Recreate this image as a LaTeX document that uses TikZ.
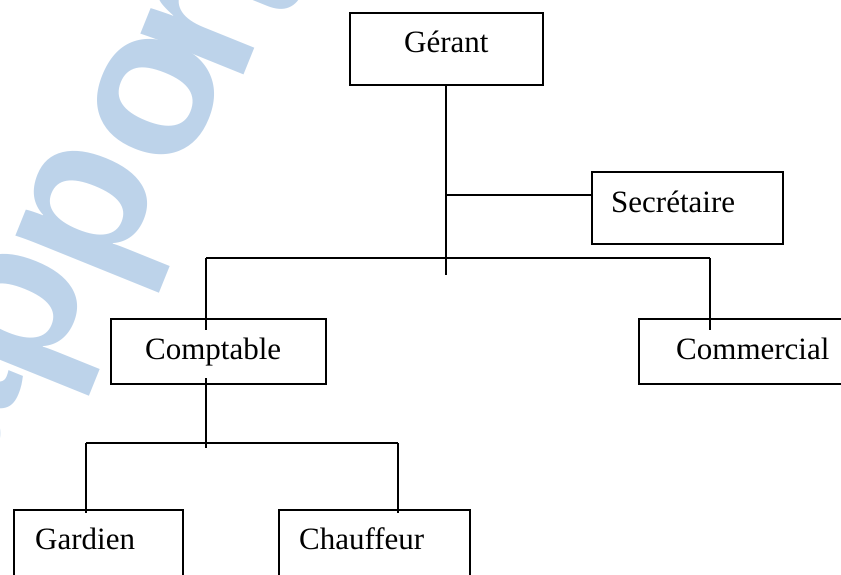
\documentclass[tikz,border=0pt]{standalone}
\usepackage{fontspec}
\setmainfont{Liberation Serif}
\newfontfamily\wmfont{Liberation Sans}
\definecolor{wmblue}{RGB}{189,211,234}
\begin{document}
\begin{tikzpicture}[x=1pt,y=-1pt,
  box/.style={draw=black, line width=1.9pt, rectangle, inner sep=0pt, anchor=north west},
  lbl/.style={font=\fontsize{31}{36}\selectfont, inner sep=0pt, anchor=base west},
  conn/.style={draw=black, line width=1.9pt},
  wm/.style={font=\wmfont\bfseries\fontsize{210}{210}\selectfont, text=wmblue, inner sep=0pt, anchor=base, rotate=68}]
\useasboundingbox (0,0) rectangle (841,575);
\clip (0,0) rectangle (841,575);
% watermark letters
\node[wm] (wa) at (2,432) {a};
\node[wm] (wp1) at (68,334) {p};
\node[wm] (wp2) at (138,231) {p};
\node[wm] (wo) at (208,118) {o};
\node[wm] (wr) at (254,51) {r};
\node[wm] (wt) at (299,-1) {t};
% boxes
\node[box, minimum width=193pt, minimum height=72pt] (gerant) at (349,12) {};
\node[box, minimum width=191pt, minimum height=72pt] (secr) at (591,171) {};
\node[box, minimum width=215pt, minimum height=65pt] (compt) at (110,318) {};
\node[box, minimum width=220pt, minimum height=65pt] (comm) at (638,318) {};
\node[box, minimum width=169pt, minimum height=80pt] (gard) at (13,509) {};
\node[box, minimum width=191pt, minimum height=80pt] (chauf) at (278,509) {};
% labels
\node[lbl] (tgerant) at (404,53) {Gérant};
\node[lbl] (tsecr) at (611,212) {Secrétaire};
\node[lbl] (tcompt) at (145,359) {Comptable};
\node[lbl] (tcomm) at (676,359) {Commercial};
\node[lbl] (tgard) at (35,549) {Gardien};
\node[lbl] (tchauf) at (299,549) {Chauffeur};
% junction coordinates
\coordinate (jsec) at (446,195);
\coordinate (jend) at (446,275);
\coordinate (hl) at (206,258);
\coordinate (hr) at (710,258);
\coordinate (cin) at (206,330);
\coordinate (min) at (710,330);
\coordinate (cout) at (206,378);
\coordinate (cbot) at (206,448);
\coordinate (bl) at (86,443);
\coordinate (br) at (398,443);
\coordinate (gin) at (86,513);
\coordinate (chin) at (398,513);
% connectors
\draw[conn] (gerant.south -| jend) -- (jend);
\draw[conn, line width=1.5pt] (jsec) -- (jsec -| secr.west);
\draw[conn] (hl) -- (hr);
\draw[conn] (hl) -- (cin);
\draw[conn] (hr) -- (min);
\draw[conn] (cout) -- (cbot);
\draw[conn] (bl) -- (br);
\draw[conn] (bl) -- (gin);
\draw[conn] (br) -- (chin);
\end{tikzpicture}
\end{document}
